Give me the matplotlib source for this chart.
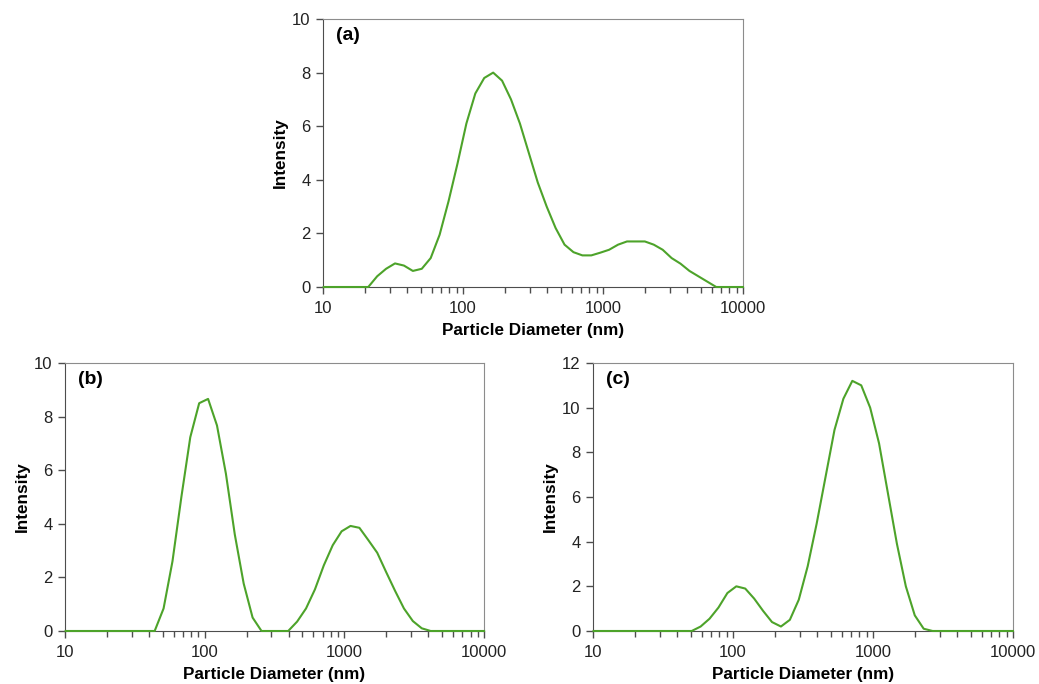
import matplotlib
matplotlib.use("Agg")
import matplotlib.pyplot as plt
from matplotlib.ticker import LogLocator, NullFormatter, FixedLocator

plt.rcParams["font.family"] = ["Liberation Sans", "DejaVu Sans"]

GREEN = "#4da32a"
DARK = "#4d4d4d"
LIGHT = "#8c8c8c"

# Malvern size bins (nm)
size_nm = [10.1, 11.7, 13.54, 15.69, 18.17, 21.04, 24.36, 28.21, 32.67, 37.84,
           43.82, 50.75, 58.77, 68.06, 78.82, 91.28, 105.7, 122.4, 141.8, 164.2,
           190.1, 220.2, 255.0, 295.3, 342.0, 396.1, 458.7, 531.2, 615.1, 712.4,
           825.0, 955.4, 1106, 1281, 1484, 1718, 1990, 2305, 2669, 3091,
           3580, 4145, 4801, 5560, 6439, 7456, 8635, 10000]

intensity_a = [0, 0, 0, 0, 0, 0, 0.4, 0.68, 0.88, 0.8,
               0.6, 0.68, 1.08, 1.95, 3.2, 4.6, 6.1, 7.22, 7.8, 8.0,
               7.7, 7.0, 6.1, 5.0, 3.9, 3.0, 2.2, 1.58, 1.3, 1.18,
               1.18, 1.28, 1.39, 1.58, 1.7, 1.7, 1.7, 1.58, 1.39, 1.08,
               0.87, 0.6, 0.4, 0.2, 0, 0, 0, 0]

intensity_b = [0, 0, 0, 0, 0, 0, 0, 0, 0, 0,
               0, 0.84, 2.6, 5.0, 7.23, 8.5, 8.66, 7.67, 5.87, 3.6,
               1.77, 0.5, 0, 0, 0, 0, 0.35, 0.84, 1.55, 2.45,
               3.2, 3.72, 3.92, 3.85, 3.39, 2.92, 2.2, 1.5, 0.84, 0.37,
               0.1, 0, 0, 0, 0, 0, 0, 0]

intensity_c = [0, 0, 0, 0, 0, 0, 0, 0, 0, 0,
               0, 0, 0.2, 0.55, 1.05, 1.7, 2.0, 1.9, 1.45, 0.9,
               0.4, 0.2, 0.5, 1.4, 2.9, 4.8, 6.9, 9.0, 10.4, 11.2,
               11.0, 10.0, 8.4, 6.15, 3.9, 2.0, 0.7, 0.1, 0, 0,
               0, 0, 0, 0, 0, 0, 0, 0]

panels = [
    ("(a)", intensity_a, [0.3109, 0.5804, 0.4042, 0.3918], 10, [0, 2, 4, 6, 8, 10]),
    ("(b)", intensity_b, [0.0626, 0.0775, 0.4033, 0.3918], 10, [0, 2, 4, 6, 8, 10]),
    ("(c)", intensity_c, [0.5707, 0.0775, 0.4042, 0.3918], 12, [0, 2, 4, 6, 8, 10, 12]),
]

fig = plt.figure(figsize=(10.39, 6.84), dpi=100)

for tag, vals, pos, ymax, yticks in panels:
    ax = fig.add_axes(pos)
    ax.plot(size_nm, vals, color=GREEN, lw=1.5, clip_on=False, zorder=3)
    ax.set_xscale("log")
    ax.set_xlim(10, 10000)
    ax.set_ylim(0, ymax)
    ax.set_yticks(yticks)
    ax.xaxis.set_major_locator(FixedLocator([10, 100, 1000, 10000]))
    ax.set_xticklabels(["10", "100", "1000", "10000"])
    ax.xaxis.set_minor_locator(LogLocator(base=10, subs=range(2, 10)))
    ax.xaxis.set_minor_formatter(NullFormatter())
    ax.tick_params(axis="both", which="major", direction="out", length=5,
                   width=1, color=DARK, labelsize=12, labelcolor="#222222")
    ax.tick_params(axis="x", which="minor", direction="out", length=4,
                   width=1, color=DARK)
    ax.tick_params(axis="y", pad=4)
    ax.tick_params(axis="x", pad=5)
    for s in ["left", "bottom"]:
        ax.spines[s].set_color(DARK)
    for s in ["top", "right"]:
        ax.spines[s].set_color(LIGHT)
    ax.set_xlabel("Particle Diameter (nm)", fontsize=12.3, fontweight="bold", labelpad=5)
    ax.set_ylabel("Intensity", fontsize=12.3, fontweight="bold", labelpad=3)
    ax.text(0.03, 0.97, tag, transform=ax.transAxes, ha="left", va="top",
            fontsize=14, fontweight="bold")

fig.savefig("out.png", dpi=100)
